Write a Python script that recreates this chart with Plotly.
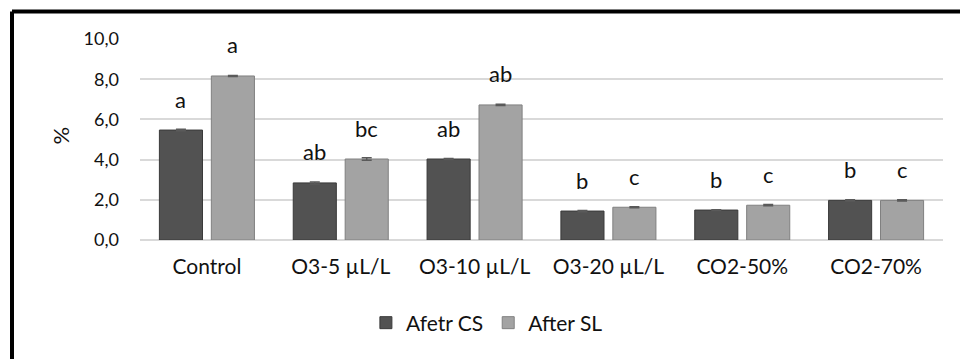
import plotly.graph_objects as go

categories = ["Control", "O3-5 µL/L", "O3-10 µL/L", "O3-20 µL/L", "CO2-50%", "CO2-70%"]
cs_values = [5.47, 2.84, 4.03, 1.44, 1.49, 1.97]
sl_values = [8.16, 4.03, 6.72, 1.63, 1.73, 1.97]
cs_err = [0.04, 0.05, 0.03, 0.03, 0.02, 0.03]
sl_err = [0.03, 0.06, 0.03, 0.03, 0.03, 0.03]
cs_letters = ["a", "ab", "ab", "b", "b", "b"]
sl_letters = ["a", "bc", "ab", "c", "c", "c"]
y_ticks = [0, 2, 4, 6, 8, 10]
y_ticktext = ["0,0", "2,0", "4,0", "6,0", "8,0", "10,0"]

FONT = "Lato"
BIG = 21
fig = go.Figure()
fig.add_trace(go.Bar(
    x=categories, y=cs_values, name="Afetr CS",
    marker=dict(color="#525252", line=dict(color="#3a3a3a", width=1)),
    error_y=dict(type="data", array=cs_err, visible=True, color="#5a5a5a", thickness=1.5, width=5),
))
fig.add_trace(go.Bar(
    x=categories, y=sl_values, name="After SL",
    marker=dict(color="#a3a3a3", line=dict(color="#808080", width=1)),
    error_y=dict(type="data", array=sl_err, visible=True, color="#5a5a5a", thickness=1.5, width=5),
))

# significance letters
for i, c in enumerate(categories):
    fig.add_annotation(x=c, y=cs_values[i], text=cs_letters[i], showarrow=False,
                       xshift=-26, yshift=31, font=dict(size=22, color="#111111", family=FONT))
    fig.add_annotation(x=c, y=sl_values[i], text=sl_letters[i], showarrow=False,
                       xshift=26, yshift=31, font=dict(size=22, color="#111111", family=FONT))

# y-axis title
fig.add_annotation(xref="paper", yref="paper", x=-0.0996, y=0.52, xanchor="center", yanchor="middle",
                   text="%", textangle=-90, showarrow=False,
                   font=dict(size=22, color="#111111", family=FONT))

# frame (top and left borders)
fig.add_shape(type="line", xref="paper", yref="paper", x0=-0.1594, x1=1.03, y0=1.1368, y1=1.1368,
              line=dict(color="black", width=4))
fig.add_shape(type="line", xref="paper", yref="paper", x0=-0.1594, x1=-0.1594, y0=-0.65, y1=1.1368,
              line=dict(color="black", width=4))

fig.update_layout(
    width=960, height=359,
    margin=dict(l=140, r=17, t=39, b=119),
    paper_bgcolor="white", plot_bgcolor="white",
    barmode="group", bargap=0.224, bargroupgap=0.17,
    font=dict(family=FONT, size=BIG, color="#111111"),
    showlegend=True,
    legend=dict(orientation="h", x=0.432, xanchor="center", y=-0.413, yanchor="middle",
                font=dict(size=BIG, family=FONT), itemwidth=30, traceorder="normal"),
    xaxis=dict(showgrid=False, showline=False, ticks="", ticklabelstandoff=12,
               tickfont=dict(size=BIG, family=FONT)),
    yaxis=dict(range=[0, 10], tickvals=y_ticks, ticktext=y_ticktext, showgrid=True,
               gridcolor="#d9d9d9", gridwidth=1.5, zeroline=True, zerolinecolor="#d9d9d9",
               zerolinewidth=1.5, showline=False, ticks="", ticklabelstandoff=20,
               tickfont=dict(size=18, family=FONT)),
)
fig.write_html("out.html")
